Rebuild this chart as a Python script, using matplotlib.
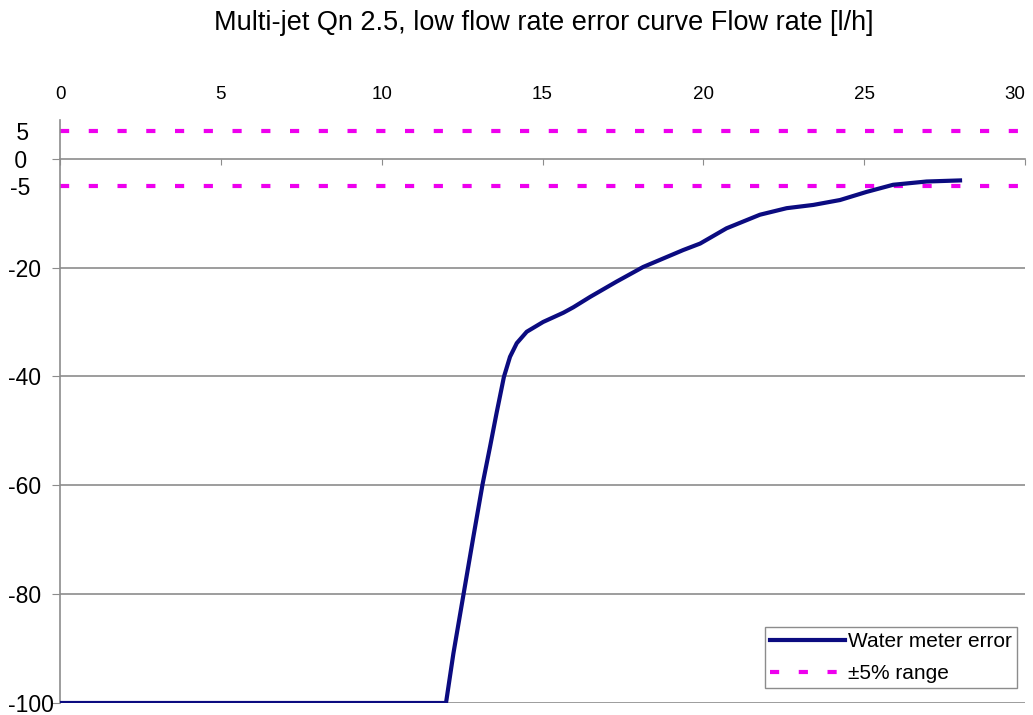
import matplotlib
matplotlib.use("Agg")
import matplotlib.pyplot as plt
from matplotlib.ticker import FixedLocator, FixedFormatter

plt.rcParams['font.family'] = ['Liberation Sans', 'DejaVu Sans']
plt.rcParams['axes.unicode_minus'] = False

# flow rate [l/h] and meter error [%]
flow = [0, 12.0, 12.23, 12.54, 12.85, 13.14, 13.37, 13.57, 13.80, 13.99, 14.2,
        14.51, 15.02, 15.65, 15.96, 16.48, 17.3, 18.13, 19.37, 19.9, 20.72,
        21.76, 22.59, 23.42, 24.25, 25.08, 25.9, 26.94, 27.98]
error = [-100, -100, -90.9, -80.2, -69.5, -59.7, -52.9, -46.8, -40.1, -36.4, -33.9,
         -31.8, -30.0, -28.3, -27.3, -25.4, -22.6, -19.9, -16.8, -15.6, -12.8,
         -10.3, -9.1, -8.5, -7.6, -6.1, -4.8, -4.2, -4.0]

limits = [5, -5]
x_range = [0, 30]
x_ticks = [0, 5, 10, 15, 20, 25, 30]
grid_ticks = [-100, -80, -60, -40, -20, 0]
extra_ticks = [-5, 5]

title = "Multi-jet Qn 2.5, low flow rate error curve Flow rate [l/h]"

fig = plt.figure(figsize=(10.33, 7.15), dpi=100)
ax = fig.add_axes([60/1033, 1 - 703/715, 965/1033, 583/715])

grey = '#8c8c8c'
for g in grid_ticks[:-1]:
    ax.axhline(g, color=grey, lw=1.2, zorder=1)

# +-5 % band
for i, lim in enumerate(limits):
    ax.plot(x_range, [lim, lim], color='#ee00ee', lw=3, dashes=(2.2, 4.7),
            solid_capstyle='butt', dash_capstyle='butt', zorder=2,
            label='±5% range' if i == 0 else None)

ax.plot(flow, error, color='#0b0b80', lw=3, zorder=3, label='Water meter error')

ax.set_xlim(0, 30)
ax.set_ylim(-100, 7.1)

ax.spines['right'].set_visible(False)
ax.spines['top'].set_visible(False)
ax.spines['left'].set_color(grey)
ax.spines['left'].set_linewidth(1.2)
ax.spines['bottom'].set_position(('data', 0))
ax.spines['bottom'].set_color(grey)
ax.spines['bottom'].set_linewidth(1.2)

ax.set_xticks(x_ticks)
ax.set_xticklabels([str(t) for t in x_ticks])
ax.tick_params(axis='x', bottom=True, top=False, labelbottom=False, labeltop=True,
               direction='out', length=4, color=grey, labelsize=13.5, pad=8)
ax.get_xticklabels()[-1].set_horizontalalignment('right')

# y labels: left aligned at the figure edge
ax.yaxis.set_major_locator(FixedLocator(grid_ticks))
ax.yaxis.set_major_formatter(FixedFormatter([(' ' + str(t)) if t >= 0 else str(t)
                                             for t in grid_ticks]))
ax.yaxis.set_minor_locator(FixedLocator(extra_ticks))
ax.yaxis.set_minor_formatter(FixedFormatter([(' ' + str(t)) if t >= 0 else str(t)
                                             for t in extra_ticks]))
ax.tick_params(axis='y', which='major', length=6, color=grey, labelsize=16.5, pad=44 * 0.72)
ax.tick_params(axis='y', which='minor', length=0, labelsize=16.5, pad=50 * 0.72)
for lab in ax.get_yticklabels(which='both'):
    lab.set_horizontalalignment('left')

leg = ax.legend(handles=[ax.lines[-1], ax.lines[-3]], loc='lower right',
                bbox_to_anchor=(957/965, 15/583), borderaxespad=0,
                fontsize=15, handlelength=3.6, handletextpad=0.15,
                labelspacing=0.6, borderpad=0.25, fancybox=False,
                framealpha=1, edgecolor=grey)
leg.get_frame().set_linewidth(1.0)

fig.text(544/1033, 1 - 30/715, title, ha='center', va='baseline', fontsize=19.5)

fig.savefig('out.png', dpi=100)
